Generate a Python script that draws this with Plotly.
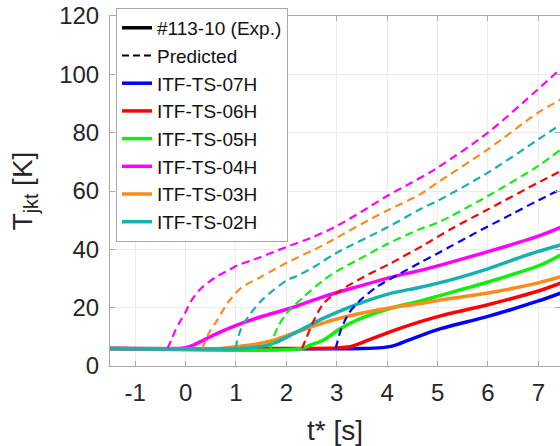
import plotly.graph_objects as go

# ---------------- data ----------------
labels = ["ITF-TS-07H", "ITF-TS-06H", "ITF-TS-05H", "ITF-TS-04H", "ITF-TS-03H", "ITF-TS-02H"]
colors = ["#0000FF", "#FF0000", "#10EE10", "#FF00FF", "#FF8A1C", "#17AFAF"]

# experimental (#113-10) curves
exp_t_07 = [-1.5, 3.5, 3.9, 4.1, 4.27, 4.6, 5.06, 6.0, 7.0, 7.44]
exp_T_07 = [6, 6, 6.3, 6.8, 7.8, 10, 12.8, 17, 22.3, 25]
exp_t_06 = [-1.5, 3.0, 3.27, 3.54, 4.07, 4.66, 5.06, 6.0, 7.0, 7.44]
exp_T_06 = [6, 6.2, 6.6, 8.3, 11.8, 15.2, 17.2, 21, 25.7, 28.4]
exp_t_05 = [-1.5, 2.3, 2.48, 2.74, 3.08, 3.41, 4.07, 4.66, 5.06, 6.0, 7.0, 7.44]
exp_T_05 = [6, 6, 7.2, 8.9, 12.9, 15.8, 19.8, 22.3, 24.2, 28.8, 34.3, 38]
exp_t_04 = [-1.5, -0.2, 0.0, 0.16, 0.36, 0.63, 1.03, 1.5, 2.08, 2.74, 3.41, 4.07, 4.66, 5.06, 6.0, 7.0, 7.44]
exp_T_04 = [6, 6, 6.3, 7.2, 8.9, 11.2, 14.1, 16.9, 19.8, 23.8, 27.2, 30.4, 32.8, 34.6, 39.2, 44.5, 47.5]
exp_t_03 = [-1.5, 0.7, 0.83, 1.29, 1.69, 2.02, 2.74, 3.41, 4.07, 4.66, 5.06, 6.0, 7.0, 7.44]
exp_T_03 = [6, 6, 6.3, 7.2, 8.6, 10.5, 14.8, 17.8, 20.0, 21.4, 22.6, 25, 28.5, 30.6]
exp_t_02 = [-1.5, 1.1, 1.55, 1.82, 2.02, 2.41, 2.74, 3.41, 4.07, 4.66, 5.32, 6.0, 6.65, 7.0, 7.44]
exp_T_02 = [6, 6, 6.9, 8.3, 10, 13.5, 16.4, 21.2, 24.9, 27, 29.8, 33.3, 37.3, 39.3, 41.5]

# predicted curves
pred_t_07 = [2.98, 3.08, 3.24, 3.47, 3.8, 4.27, 4.67, 5.0, 5.86, 6.5, 7.0, 7.45]
pred_T_07 = [6, 12.3, 18.1, 22.6, 27.2, 31.8, 35.6, 38.6, 46.6, 52.3, 56.8, 60.6]
pred_t_06 = [2.31, 2.38, 2.55, 2.74, 3.08, 3.54, 4.07, 4.7, 5.26, 6.0, 7.0, 7.45]
pred_T_06 = [6, 8.9, 15.8, 21.5, 26, 30.6, 35.2, 41.2, 46.9, 53.7, 62.9, 66.9]
pred_t_05 = [1.69, 1.75, 1.85, 1.98, 2.08, 2.35, 2.74, 3.0, 3.41, 4.0, 4.66, 5.0, 6.0, 7.0, 7.45]
pred_T_05 = [6, 10, 14, 17.5, 19.5, 23.8, 29.5, 32.5, 36.3, 41.8, 47, 49.1, 58.3, 68.6, 74.3]
pred_t_04 = [-0.36, -0.28, -0.2, -0.1, 0.0, 0.1, 0.3, 0.6, 0.87, 1.03, 1.36, 2.0, 2.5, 3.0, 3.5, 4.0, 4.5, 5.0, 6.0, 7.0, 7.45]
pred_T_04 = [6, 9, 12.3, 15.5, 18.5, 22, 26.5, 30.5, 33, 34.5, 36.5, 40.8, 44, 48, 53, 58.3, 63, 68, 80, 95, 102]
pred_t_03 = [0.33, 0.46, 0.63, 0.83, 1.09, 1.5, 2.02, 2.74, 3.0, 3.5, 4.0, 4.67, 5.0, 6.0, 7.0, 7.45]
pred_T_03 = [6, 11.2, 15.8, 21.5, 26.6, 30.6, 35.5, 41.5, 44, 48.8, 53.3, 59, 62.9, 74.3, 86.9, 91.4]
pred_t_02 = [0.99, 1.09, 1.29, 1.55, 2.02, 2.2, 2.55, 3.0, 4.0, 4.67, 5.0, 6.0, 7.0, 7.45]
pred_T_02 = [6, 12.3, 18, 23.2, 29.5, 30.8, 34, 38.8, 47.5, 53.9, 56.6, 66.3, 77.7, 82.9]

x_ticks = [-1, 0, 1, 2, 3, 4, 5, 6, 7]
x_ticktext = ["-1", "0", "1", "2", "3", "4", "5", "6", "7"]
y_ticks = [0, 20, 40, 60, 80, 100, 120]

exp_t = [exp_t_07, exp_t_06, exp_t_05, exp_t_04, exp_t_03, exp_t_02]
exp_T = [exp_T_07, exp_T_06, exp_T_05, exp_T_04, exp_T_03, exp_T_02]
pred_t = [pred_t_07, pred_t_06, pred_t_05, pred_t_04, pred_t_03, pred_t_02]
pred_T = [pred_T_07, pred_T_06, pred_T_05, pred_T_04, pred_T_03, pred_T_02]

# ---------------- figure ----------------
FONT = "Liberation Sans, Arial, Helvetica, sans-serif"
fig = go.Figure()

fig.add_trace(go.Scatter(x=[None], y=[None], mode="lines", name="#113-10 (Exp.)",
                         line=dict(color="black", width=3.5)))
fig.add_trace(go.Scatter(x=[None], y=[None], mode="lines", name="Predicted",
                         line=dict(color="black", width=2, dash="7px,4px")))

for i in range(6):
    fig.add_trace(go.Scatter(x=exp_t[i], y=exp_T[i], mode="lines", name=labels[i],
                             line=dict(color=colors[i], width=3.5, shape="spline", smoothing=0.8)))
for i in range(6):
    fig.add_trace(go.Scatter(x=pred_t[i], y=pred_T[i], mode="lines", showlegend=False,
                             line=dict(color=colors[i], width=2.2, dash="8px,5px",
                                       shape="spline", smoothing=0.8)))

axis_common = dict(showline=True, linecolor="#A8A8A8", linewidth=1, mirror="ticks",
                   ticks="inside", ticklen=5, tickcolor="#A8A8A8",
                   showgrid=True, gridcolor="#EBEBEB", gridwidth=1, zeroline=False,
                   ticklabeloverflow="allow",
                   tickfont=dict(family=FONT, size=24, color="#262626"))

fig.update_xaxes(range=[-1.5, 7.43], tickvals=x_ticks, ticktext=x_ticktext, **axis_common,
                 ticklabelstandoff=5,
                 title=dict(text="t* [s]", font=dict(family=FONT, size=28, color="#262626"),
                            standoff=16))
fig.update_yaxes(range=[0, 120], tickvals=y_ticks, **axis_common,
                 ticklabelstandoff=5,
                 title=dict(text="T<sub>jkt</sub> [K]", font=dict(family=FONT, size=28, color="#262626"),
                            standoff=18))

fig.update_layout(
    width=560, height=446,
    margin=dict(l=110, r=0, t=16, b=80, autoexpand=False),
    plot_bgcolor="white", paper_bgcolor="white",
    font=dict(family=FONT, color="#262626"),
    showlegend=True,
    legend=dict(x=0.0133, y=1.023, xanchor="left", yanchor="top",
                bgcolor="white", bordercolor="#A8A8A8", borderwidth=1,
                font=dict(family=FONT, size=19, color="#111111"),
                tracegroupgap=0, itemwidth=30, maxheight=400),
)

# remove the browser's default 8px body margin so the figure fills the window exactly
fig.write_html("out.html", config={"displayModeBar": False},
               post_script="document.body.style.margin='0';")
